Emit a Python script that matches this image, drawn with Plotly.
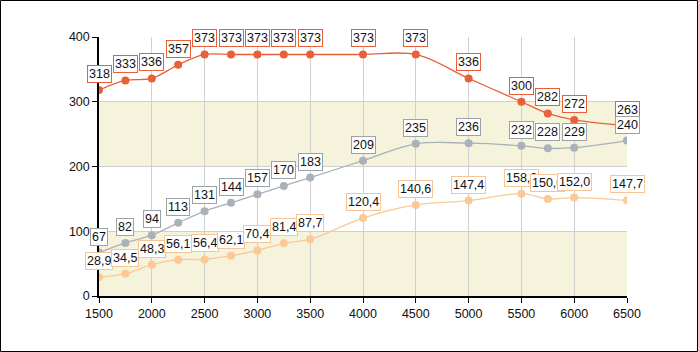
import plotly.graph_objects as go

x_vals = [1500, 1750, 2000, 2250, 2500, 2750, 3000, 3250, 3500, 4000, 4500, 5000, 5500, 5750, 6000, 6500]
series_top = [318, 333, 336, 357, 373, 373, 373, 373, 373, 373, 373, 336, 300, 282, 272, 263]
series_mid = [67, 82, 94, 113, 131, 144, 157, 170, 183, 209, 235, 236, 232, 228, 229, 240]
series_low = [28.9, 34.5, 48.3, 56.1, 56.4, 62.1, 70.4, 81.4, 87.7, 120.4, 140.6, 147.4, 158.0, 150.0, 152.0, 147.7]
y_ticks = [0, 100, 200, 300, 400]
x_ticks = [1500, 2000, 2500, 3000, 3500, 4000, 4500, 5000, 5500, 6000, 6500]
bands = [(0, 100), (200, 300)]

c_top = "#e8603a"
c_mid = "#a9b1b9"
c_low = "#fbc896"

fig = go.Figure()
series = [
    (series_top, c_top, c_top, lambda v: f"{v:.0f}"),
    (series_mid, c_mid, "#9aa2aa", lambda v: f"{v:.0f}"),
    (series_low, c_low, "#f5c497", lambda v: f"{v:.1f}".replace(".", ",")),
]
for vals, col, bcol, fmt in series:
    fig.add_trace(go.Scatter(
        x=x_vals, y=vals, mode="lines+markers",
        line=dict(color=col, width=1.3, shape="spline", smoothing=1.0),
        marker=dict(color=col, size=8),
        hoverinfo="skip", showlegend=False))

annotations = []
for vals, col, bcol, fmt in series:
    for xv, yv in zip(x_vals, vals):
        annotations.append(dict(
            x=xv, y=yv, xref="x", yref="y", text=fmt(yv), showarrow=False,
            yanchor="bottom", xanchor="center", yshift=7,
            bgcolor="white", bordercolor=bcol, borderwidth=1, borderpad=1,
            font=dict(family="Liberation Sans, Arial", size=12.5, color="#111")))

shapes = []
for lo, hi in bands:
    shapes.append(dict(type="rect", xref="paper", yref="y", x0=0, x1=1, y0=lo, y1=hi,
                       fillcolor="#f5f3dc", line=dict(width=0), layer="below"))
# outer frame
shapes.append(dict(type="rect", xref="paper", yref="paper",
                   x0=-98.5 / 528, x1=1 + 70.5 / 528, y0=-55.5 / 259, y1=1 + 36.5 / 259,
                   line=dict(color="black", width=1), fillcolor="rgba(0,0,0,0)", layer="above"))

fig.update_layout(
    width=698, height=352,
    margin=dict(l=99, r=71, t=37, b=56),
    paper_bgcolor="white", plot_bgcolor="white",
    font=dict(family="Liberation Sans, Arial", size=12.5, color="#111"),
    annotations=annotations, shapes=shapes,
    xaxis=dict(range=[1500, 6500], tickvals=x_ticks, showgrid=True, gridcolor="#d0d0d0",
               showline=True, linecolor="black", linewidth=1.5, ticks="outside",
               ticklen=5, tickcolor="black", zeroline=False,
               tickfont=dict(size=12.5)),
    yaxis=dict(range=[0, 400], tickvals=y_ticks, showgrid=True, gridcolor="#d0d0d0",
               showline=True, linecolor="black", linewidth=1.5, ticks="outside",
               ticklen=5, tickcolor="black", zeroline=False,
               tickfont=dict(size=12.5)),
)

fig.write_html("out.html")
